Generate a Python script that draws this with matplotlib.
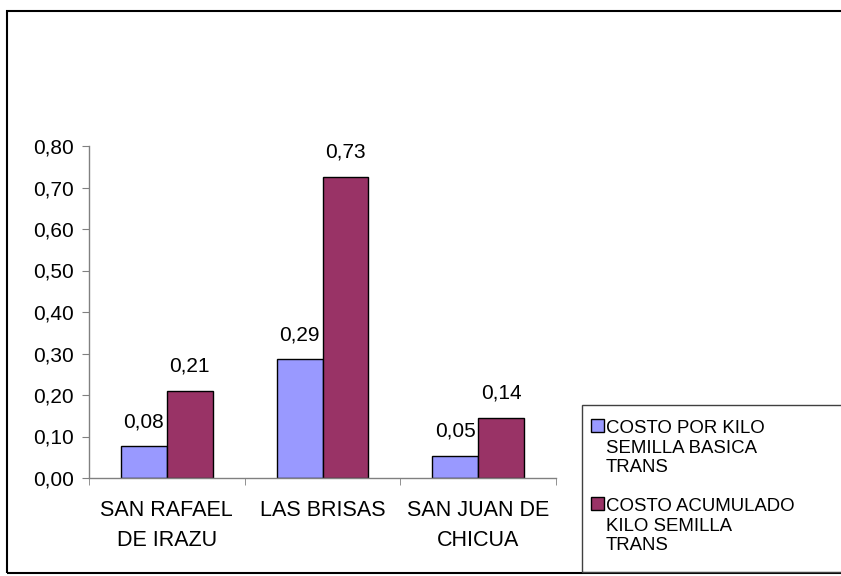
import matplotlib
matplotlib.use("Agg")
import matplotlib.pyplot as plt
from matplotlib.patches import Rectangle
from matplotlib.ticker import FixedLocator, FuncFormatter
import numpy as np

categories = ["SAN RAFAEL\nDE IRAZU", "LAS BRISAS", "SAN JUAN DE\nCHICUA"]
series_names = ["COSTO POR KILO\nSEMILLA BASICA\nTRANS",
                "COSTO ACUMULADO\nKILO SEMILLA\nTRANS"]
costo_kilo = [0.076, 0.286, 0.053]
costo_acumulado = [0.209, 0.726, 0.145]
colors = ["#9999FF", "#993366"]

plt.rcParams['font.family'] = ['Liberation Sans', 'DejaVu Sans']

W, H = 841, 576
fig = plt.figure(figsize=(W / 100, H / 100), dpi=100)

def fx(px):
    return px / W

def fy(py):
    return 1 - py / H

# outer chart frame (cut off at the right edge like the reference)
fig.patches.append(Rectangle((fx(7), fy(573)), fx(850) - fx(7), fy(11) - fy(573),
                             transform=fig.transFigure, fill=False,
                             edgecolor="black", linewidth=1.5))

ax = fig.add_axes([fx(89), fy(478), fx(556) - fx(89), fy(146) - fy(478)])

x = np.arange(len(categories))
bw = 0.295
bars1 = ax.bar(x - bw / 2, costo_kilo, bw, color=colors[0], edgecolor="black", linewidth=1)
bars2 = ax.bar(x + bw / 2, costo_acumulado, bw, color=colors[1], edgecolor="black", linewidth=1)

fmt = lambda v: f"{v:.2f}".replace(".", ",")
for bars in (bars1, bars2):
    for b in bars:
        ax.annotate(fmt(b.get_height()), (b.get_x() + b.get_width() / 2, b.get_height()),
                    xytext=(0, 11), textcoords="offset points",
                    ha="center", va="bottom", fontsize=15)

ax.set_xlim(-0.5, len(categories) - 0.5)
ax.set_ylim(0, 0.8)
ax.set_yticks(np.arange(0, 0.81, 0.1))
ax.yaxis.set_major_formatter(FuncFormatter(lambda v, p: fmt(v)))
ax.tick_params(axis="y", labelsize=15, length=5, pad=6, color="#808080")

ax.set_xticks(x)
ax.set_xticklabels(categories, fontsize=15.5, linespacing=1.55)
ax.tick_params(axis="x", which="major", length=0, pad=16)
ax.xaxis.set_minor_locator(FixedLocator(np.arange(-0.5, len(categories), 1.0)))
ax.tick_params(axis="x", which="minor", length=5, color="#808080")

for s in ("top", "right"):
    ax.spines[s].set_visible(False)
for s in ("left", "bottom"):
    ax.spines[s].set_color("#808080")
    ax.spines[s].set_linewidth(1)

# legend box drawn by hand so the swatch sits on the first line
fig.patches.append(Rectangle((fx(582), fy(572)), fx(850) - fx(582), fy(405) - fy(572),
                             transform=fig.transFigure, fill=False,
                             edgecolor="#404040", linewidth=1))
for i, (name, c) in enumerate(zip(series_names, colors)):
    top = 419 + i * 78
    fig.patches.append(Rectangle((fx(591), fy(top + 13)), fx(13), 13 / H,
                                 transform=fig.transFigure, facecolor=c,
                                 edgecolor="black", linewidth=1))
    fig.text(fx(606), fy(top + 1), name, fontsize=13.4, ha="left", va="top",
             linespacing=1.2)

fig.savefig("out.png", dpi=100)
